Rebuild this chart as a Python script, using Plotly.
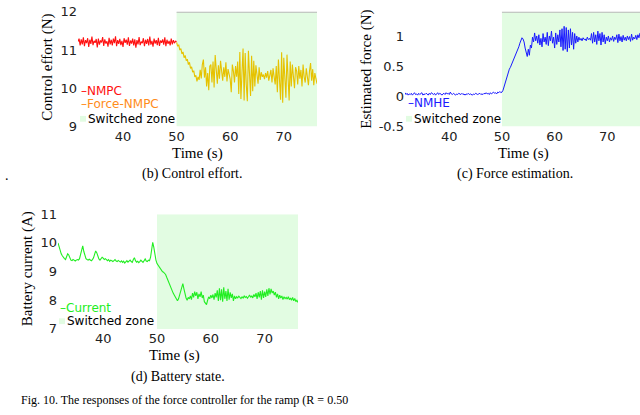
import numpy as np
import plotly.graph_objects as go

# sampling grid of the logged signals (s)
t_start = 31.6
t_step = 0.2
t_switch = 50.0
t_end = 76.2

# (b) control effort (N)
nmpc = [11.22, 11.30, 11.12, 11.28, 11.15, 11.33, 11.10, 11.26, 11.18, 11.31,
        11.08, 11.27, 11.16, 11.35, 11.13, 11.24, 11.19, 11.29, 11.07, 11.30,
        11.14, 11.25, 11.20, 11.34, 11.11, 11.28, 11.17, 11.23, 11.09, 11.32,
        11.15, 11.27, 11.12, 11.30, 11.18, 11.36, 11.10, 11.26, 11.16, 11.29,
        11.13, 11.24, 11.08, 11.31, 11.19, 11.27, 11.14, 11.33, 11.11, 11.25,
        11.17, 11.30, 11.12, 11.28, 11.06, 11.26, 11.15, 11.34, 11.13, 11.22,
        11.18, 11.31, 11.10, 11.27, 11.16, 11.29, 11.12, 11.35, 11.14, 11.24,
        11.09, 11.30, 11.17, 11.26, 11.13, 11.32, 11.11, 11.25, 11.19, 11.28,
        11.14, 11.33, 11.10, 11.27, 11.16, 11.24, 11.12, 11.30, 11.15, 11.26,
        11.18, 11.23, 11.22]
force_nmpc = [11.20, 11.10, 11.14, 11.00, 11.04, 10.90, 10.95, 10.80, 10.86, 10.72,
              10.76, 10.62, 10.68, 10.52, 10.56, 10.42, 10.46, 10.30, 10.34, 10.18,
              10.30, 10.22, 10.48, 10.26, 10.62, 10.75, 10.28, 10.55, 10.05, 10.40,
              9.95, 10.58, 10.62, 10.15, 10.70, 10.02, 10.87, 10.35, 10.12, 10.60,
              10.25, 10.72, 10.44, 10.20, 10.55, 10.30, 10.68, 10.18, 10.50, 10.40,
              10.24, 9.90, 10.62, 10.45, 10.15, 10.58, 10.30, 10.70, 9.85, 10.95,
              9.72, 10.40, 11.04, 9.68, 10.92, 10.10, 9.66, 10.98, 10.30, 9.80,
              10.85, 9.92, 10.72, 10.05, 10.60, 10.38, 10.12, 10.55, 10.22, 10.42,
              10.30, 10.36, 10.24, 10.40, 10.28, 10.45, 10.20, 10.34, 10.48, 10.15,
              10.52, 10.30, 10.10, 10.58, 9.90, 10.75, 10.35, 9.70, 10.94, 9.62,
              10.80, 10.20, 9.75, 10.88, 10.40, 9.68, 10.70, 10.05, 10.62, 10.30,
              10.00, 10.55, 10.45, 10.10, 10.58, 10.25, 10.48, 10.05, 10.62, 10.30,
              10.15, 10.52, 10.35, 10.08, 10.45, 10.66, 10.20, 10.50, 10.08, 10.40,
              10.25, 10.12]

# (c) estimated force (N)
nmhe_pre = [0.06, 0.03, 0.05, 0.02, 0.04, 0.03, 0.05, 0.02, 0.04, 0.06, 0.03, 0.04, 0.02, 0.05, 0.03, 0.04, 0.06, 0.02, 0.04, 0.03,
            0.05, 0.04, 0.02, 0.05, 0.03, 0.06, 0.04, 0.03, 0.05, 0.02, 0.04, 0.06, 0.03, 0.05, 0.04, 0.02, 0.04, 0.05, 0.03, 0.06,
            0.04, 0.05, 0.03, 0.07, 0.04, 0.03, 0.05, 0.04, 0.02, 0.04, 0.03, 0.05, 0.04, 0.03, 0.05, 0.03, 0.04, 0.02, 0.04, 0.03,
            0.05, 0.03, 0.04, 0.03, 0.02, 0.04, 0.03, 0.05, 0.04, 0.03, 0.04, 0.05, 0.03, 0.04, 0.03, 0.05, 0.04, 0.06, 0.04, 0.05,
            0.03, 0.06, 0.04, 0.05, 0.07, 0.05, 0.06, 0.04, 0.07, 0.06, 0.08, 0.06]
nmhe_post = [0.07, 0.10, 0.16, 0.22, 0.30, 0.36, 0.40, 0.45, 0.48, 0.52,
             0.55, 0.60, 0.64, 0.70, 0.74, 0.78, 0.82, 0.88, 0.93, 0.97,
             0.95, 0.90, 0.80, 0.72, 0.66, 0.78, 0.68, 0.85, 0.80, 0.98,
             0.90, 1.05, 0.92, 1.00, 0.88, 1.02, 0.85, 0.96, 0.82, 1.04,
             0.90, 0.98, 0.86, 1.06, 0.84, 1.00, 0.92, 1.08, 0.88, 0.98,
             0.80, 1.05, 0.86, 1.02, 0.90, 1.10, 0.82, 1.12, 0.76, 1.16,
             0.78, 1.14, 0.74, 1.10, 0.80, 1.12, 0.85, 1.06, 0.78, 1.04,
             0.88, 1.00, 0.90, 0.98, 0.93, 0.96, 0.92, 0.97, 0.94, 0.95,
             0.92, 0.98, 0.94, 0.96, 0.93, 1.04, 0.88, 1.06, 0.90, 1.02,
             0.86, 1.08, 0.92, 1.04, 0.85, 1.06, 0.90, 1.02, 0.87, 0.98,
             0.92, 1.00, 0.90, 0.97, 0.93, 1.00, 0.91, 0.98, 0.94, 1.02,
             0.89, 1.03, 0.92, 0.99, 0.90, 1.01, 0.93, 0.98, 0.92, 1.00,
             0.94, 0.99, 0.91, 1.03, 0.93, 0.98, 0.95, 1.01, 0.94, 1.02,
             0.97, 1.05]

# (d) battery current (A)
current_pre = [10.00, 9.85, 9.72, 9.62, 9.55, 9.48, 9.45, 9.42, 9.50, 9.62,
               9.58, 9.45, 9.40, 9.38, 9.42, 9.40, 9.37, 9.40, 9.42, 9.40,
               9.45, 9.60, 9.75, 9.90, 9.70, 9.52, 9.45, 9.42, 9.40, 9.43,
               9.40, 9.38, 9.42, 9.48, 9.60, 9.72, 9.66, 9.52, 9.44, 9.40,
               9.46, 9.50, 9.47, 9.42, 9.45, 9.40, 9.38, 9.42, 9.36, 9.40,
               9.38, 9.35, 9.38, 9.42, 9.37, 9.35, 9.39, 9.36, 9.33, 9.37,
               9.32, 9.36, 9.30, 9.34, 9.38, 9.33, 9.36, 9.40, 9.35, 9.32,
               9.42, 9.48, 9.38, 9.33, 9.36, 9.31, 9.35, 9.40, 9.36, 9.32,
               9.38, 9.44, 9.37, 9.35, 9.40, 9.38, 9.50, 9.75, 10.02, 9.85,
               9.60, 9.40]
current_post = [9.28, 9.22, 9.15, 9.10, 9.05, 9.00, 8.98, 8.95, 8.90, 8.80,
                8.70, 8.62, 8.55, 8.45, 8.35, 8.25, 8.18, 8.10, 8.02, 7.98,
                8.05, 8.20, 8.35, 8.48, 8.58, 8.40, 8.22, 8.08, 8.00, 8.10,
                8.05, 8.15, 8.02, 8.25, 8.10, 8.30, 8.15, 8.28, 8.05, 8.22,
                8.12, 8.30, 8.08, 8.18, 7.95, 7.88, 7.85, 8.00, 8.12, 8.05,
                8.18, 8.08, 8.20, 8.02, 8.25, 8.10, 8.35, 7.98, 8.42, 8.00,
                8.38, 7.95, 8.45, 8.05, 8.32, 7.98, 8.40, 8.02, 8.28, 8.08,
                8.22, 7.98, 8.15, 8.05, 8.12, 8.08, 8.14, 8.10, 8.06, 8.12,
                8.08, 8.15, 8.10, 8.13, 8.07, 8.12, 8.18, 8.10, 8.16, 8.08,
                8.20, 8.12, 8.25, 8.05, 8.28, 8.10, 8.32, 8.02, 8.35, 8.08,
                8.30, 8.12, 8.38, 8.15, 8.42, 8.20, 8.40, 8.25, 8.32, 8.18,
                8.28, 8.10, 8.22, 8.05, 8.18, 8.08, 8.15, 8.02, 8.12, 8.06,
                8.10, 8.04, 8.12, 8.02, 8.08, 8.00, 8.10, 7.98, 8.06, 7.95,
                8.00, 7.92]

x_range = [t_start, t_end]
x_ticks = [40, 50, 60, 70]
b_yticks = [9, 10, 11, 12]
c_yticks = [-0.5, 0, 0.5, 1]
c_yticklabels = ["-0.5", "0", "0.5", "1"]
d_yticks = [7, 8, 9, 10, 11]

W, H = 640, 415
ZONE = "#e2fce2"
SERIF = "Liberation Serif"
SANS = "DejaVu Sans"


def px(x):
    return x / W


def py(y):
    return 1 - y / H


def grid(start, n):
    return start + t_step * np.arange(n)


t_pre = grid(t_start, len(nmpc))
t_post = grid(t_switch, len(force_nmpc))
t_nmhe = np.concatenate([grid(t_start, len(nmhe_pre)), grid(t_switch, len(nmhe_post))])
t_cur = np.concatenate([grid(t_start, len(current_pre)), grid(t_switch, len(current_post))])

fig = go.Figure()
fig.add_trace(go.Scatter(x=t_pre, y=nmpc, mode="lines", line=dict(color="#ff1010", width=1.1),
                         xaxis="x", yaxis="y"))
fig.add_trace(go.Scatter(x=t_post, y=force_nmpc, mode="lines", line=dict(color="#e6c200", width=1.1),
                         xaxis="x", yaxis="y"))
fig.add_trace(go.Scatter(x=t_nmhe, y=nmhe_pre + nmhe_post, mode="lines", line=dict(color="#1a1aff", width=1.0),
                         xaxis="x2", yaxis="y2"))
fig.add_trace(go.Scatter(x=t_cur, y=current_pre + current_post, mode="lines", line=dict(color="#22ee22", width=1.1),
                         xaxis="x3", yaxis="y3"))

ax = dict(showgrid=False, zeroline=False, showline=False, ticks="",
          tickfont=dict(family=SANS, size=13, color="#222"))
fig.update_layout(
    width=W, height=H, autosize=False, showlegend=False,
    margin=dict(l=0, r=0, t=0, b=0),
    paper_bgcolor="white", plot_bgcolor="rgba(0,0,0,0)",
    xaxis=dict(ax, domain=[px(78), px(317)], range=x_range, tickvals=x_ticks, anchor="y"),
    yaxis=dict(ax, domain=[py(124), py(5)], range=[9, 12], tickvals=b_yticks, anchor="x"),
    xaxis2=dict(ax, domain=[px(405), 1.0], range=x_range, tickvals=x_ticks, anchor="y2"),
    yaxis2=dict(ax, domain=[py(124), py(5)], range=[-0.5, 1.4], tickvals=c_yticks,
                ticktext=c_yticklabels, anchor="x2"),
    xaxis3=dict(ax, domain=[px(58), px(298)], range=x_range, tickvals=x_ticks, anchor="y3"),
    yaxis3=dict(ax, domain=[py(334), py(215)], range=[7, 11], tickvals=d_yticks, anchor="x3"),
)

# switched zones
for xr, yr, lo, hi, top in [("x", "y", 9, 12, True), ("x2", "y2", -0.5, 1.4, True), ("x3", "y3", 7, 11, False)]:
    fig.add_shape(type="rect", xref=xr, yref=yr, x0=t_switch, x1=t_end, y0=lo, y1=hi,
                  fillcolor=ZONE, line_width=0, layer="below")
    if top:
        fig.add_shape(type="line", xref=xr, yref=yr, x0=t_switch, x1=t_end, y0=hi, y1=hi,
                      line=dict(color="#b8b8b8", width=2))


def note(text, x, y, size=12, color="black", family=SANS, xanchor="left", angle=0):
    fig.add_annotation(text=text, x=px(x), y=py(y), xref="paper", yref="paper", showarrow=False,
                       xanchor=xanchor, yanchor="middle", textangle=angle,
                       font=dict(family=family, size=size, color=color))


def zone_key(x, y):
    fig.add_shape(type="rect", xref="paper", yref="paper", x0=px(x), x1=px(x + 6),
                  y0=py(y + 3), y1=py(y - 3), fillcolor=ZONE, line_width=0)


# legends
note("\u2013NMPC", 79, 87, color="#ff1010")
note("\u2013Force-NMPC", 79, 101, color="#ff8c1a")
zone_key(80, 116)
note("Switched zone", 86, 116)

note("\u2013NMHE", 406, 100, color="#1a1aff")
zone_key(406, 116)
note("Switched zone", 412, 116)

note("\u2013Current", 58, 312, color="#22ee22")
zone_key(59, 326)
note("Switched zone", 65, 326)

# axis titles
note("Time (s)", 197, 152, size=15, family=SERIF, xanchor="center")
note("Time (s)", 523, 152, size=15, family=SERIF, xanchor="center")
note("Time (s)", 174, 362, size=15, family=SERIF, xanchor="center")
note("Control effort (N)", 48, 63, size=15, family=SERIF, xanchor="center", angle=-90)
note("Estimated force (N)", 367, 65, size=15, family=SERIF, xanchor="center", angle=-90)
note("Battery current (A)", 27, 272, size=15, family=SERIF, xanchor="center", angle=-90)

# captions
note("(b) Control effort.", 192, 173, size=14, family=SERIF, xanchor="center")
note("(c) Force estimation.", 515, 173, size=14, family=SERIF, xanchor="center")
note("(d) Battery state.", 178, 384, size=14, family=SERIF, xanchor="center")
note(".", 3, 175, size=14, family=SERIF)
note("Fig. 10. The responses of the force controller for the ramp (R = 0.50", 19, 408, size=12, family=SERIF)

# drop the browser's default page margin so the 640x415 figure fills the window
fig.write_html("out.html", config={"displayModeBar": False},
               post_script="document.body.style.margin='0';")
